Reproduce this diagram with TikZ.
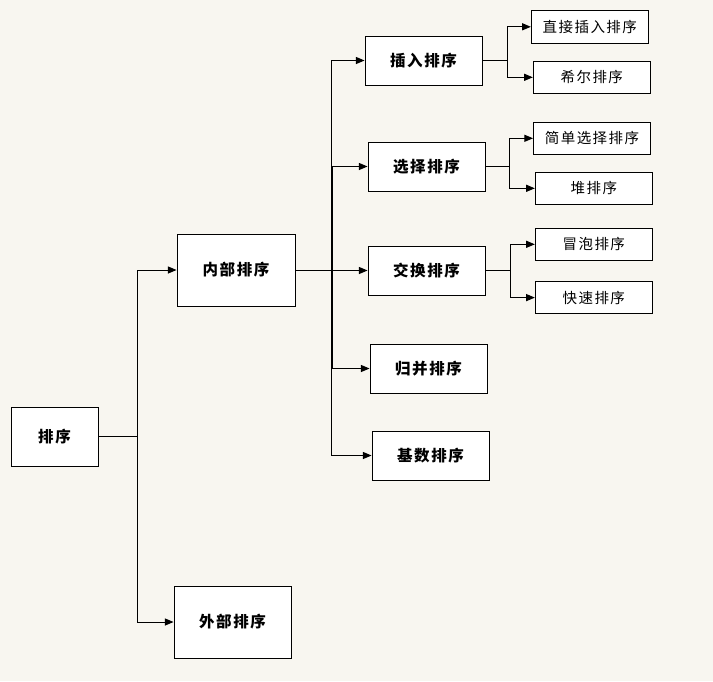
\documentclass[tikz,border=0pt]{standalone}
\usepackage{fontspec}
\newfontfamily\cjk[LetterSpace=10]{Noto Sans CJK SC}
\usetikzlibrary{arrows}
\definecolor{bgcream}{RGB}{248,246,240}
\newcommand{\boxwidth}{117pt}
\tikzstyle{rootbox} = [% the whole topic
  rectangle,
  minimum width=87pt,
  minimum height=59pt,
  text centered,
  draw=black,
  line width=1pt,
  fill=white,
  font=\cjk\bfseries\fontsize{15.5}{17}\selectfont
]
\tikzstyle{groupbox} = [% internal or external sorting
  rootbox,
  minimum width=\boxwidth,
  minimum height=72pt
]
\tikzstyle{kindbox} = [% one family of methods
  rootbox,
  minimum width=\boxwidth,
  minimum height=49pt
]
\tikzstyle{methodbox} = [% a single method
  rootbox,
  minimum width=\boxwidth,
  minimum height=32pt,
  font=\cjk\fontsize{14.5}{16}\selectfont
]
\tikzstyle{arrow} = [% arrow format
  ->,
  >=triangle 45,
  line width=1pt
]

\begin{document}
\begin{tikzpicture}[x=1pt, y=-1pt]

%%% Background
\fill[bgcream] (0,0) rectangle (713,681);
\useasboundingbox (0,0) rectangle (713,681);

%%% Nodes
\node[rootbox] (sort) at (54.5,436.5) {排序};
\node[groupbox, minimum width=118pt] (inner) at (236,270) {内部排序};
\node[groupbox] (outer) at (232.5,622) {外部排序};

\node[kindbox] (insert) at (423.5,60.5) {插入排序};
\node[kindbox] (select) at (426.5,166.5) {选择排序};
\node[kindbox] (swap) at (426.5,270.5) {交换排序};
\node[kindbox] (merge) at (428.5,368.5) {归并排序};
\node[kindbox] (radix) at (430.5,455.5) {基数排序};

\node[methodbox, minimum height=33pt] (direct) at (589.8,26.8) {直接插入排序};
\node[methodbox] (shell) at (591.8,77.3) {希尔排序};
\node[methodbox] (simple) at (592,138.3) {简单选择排序};
\node[methodbox] (heap) at (593.8,188.3) {堆排序};
\node[methodbox] (bubble) at (593.8,244.3) {冒泡排序};
\node[methodbox] (quick) at (593.8,297.6) {快速排序};

%%% Joints
\coordinate (sortjoint) at (137,436.5);
\coordinate (innerjoint) at (331,270);
\coordinate (innerjoint2) at (332,270);
\coordinate (insertjoint) at (507.3,60.5);
\coordinate (selectjoint) at (509.7,166.5);
\coordinate (swapjoint) at (510.3,270.5);

%%% Arrows
\draw[arrow] (sort.east) -- (sortjoint) |- (inner.west);
\draw[arrow] (sort.east) -- (sortjoint) |- (outer.west);

\draw[arrow] (inner.east) -- (innerjoint) |- (insert.west);
\draw[arrow] (inner.east) -- (innerjoint2) |- (select.west);
\draw[arrow] (inner.east) -- (innerjoint2) |- (swap.west);
\draw[arrow] (inner.east) -- (innerjoint2) |- (merge.west);
\draw[arrow] (inner.east) -- (innerjoint) |- (radix.west);

\draw[arrow] (insert.east) -- (insertjoint) |- (direct.west);
\draw[arrow] (insert.east) -- (insertjoint) |- (shell.west);
\draw[arrow] (select.east) -- (selectjoint) |- (simple.west);
\draw[arrow] (select.east) -- (selectjoint) |- (heap.west);
\draw[arrow] (swap.east) -- (swapjoint) |- (bubble.west);
\draw[arrow] (swap.east) -- (swapjoint) |- (quick.west);

\end{tikzpicture}
\end{document}
